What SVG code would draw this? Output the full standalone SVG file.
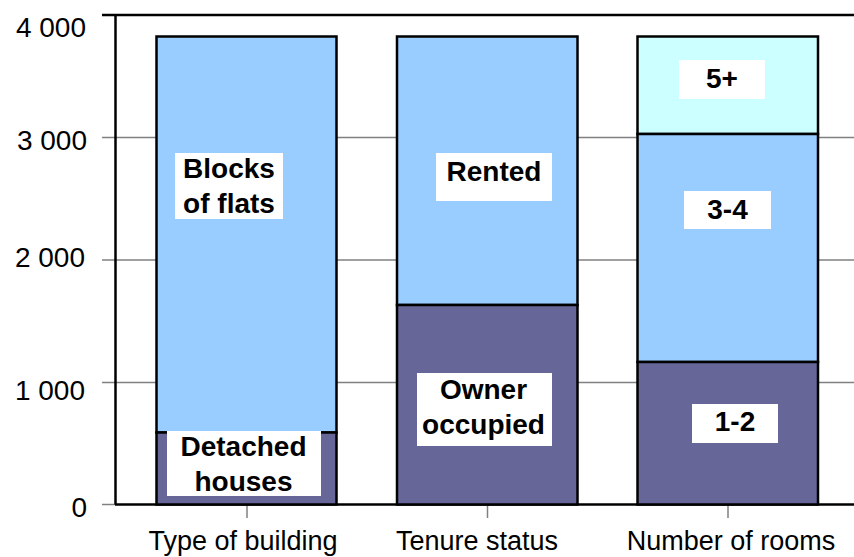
<svg xmlns="http://www.w3.org/2000/svg" width="854" height="557" viewBox="0 0 854 557">
<style>
.grid{stroke:#808080;stroke-width:1.5;fill:none}
.axis{stroke:#000;stroke-width:2.5;fill:none}
.bar{stroke:#000;stroke-width:2.5}
.dark{fill:#666699}
.light{fill:#99CCFF}
.cyan{fill:#CCFFFF}
.box{fill:#fff;stroke:none}
.yl{font-family:"Liberation Sans",Arial,sans-serif;font-size:28px;fill:#000;text-anchor:end}
.xl{font-family:"Liberation Sans",Arial,sans-serif;font-size:27px;fill:#000;text-anchor:middle}
.bl{font-family:"Liberation Sans",Arial,sans-serif;font-size:28px;font-weight:bold;fill:#000;text-anchor:middle}
</style>
<rect width="854" height="557" fill="#fff"/>
<g id="gridlines">
<line class="grid" x1="102" y1="137.5" x2="854" y2="137.5"/>
<line class="grid" x1="102" y1="260" x2="854" y2="260"/>
<line class="grid" x1="102" y1="382.5" x2="854" y2="382.5"/>
<line class="grid" x1="102" y1="504.5" x2="116" y2="504.5"/>
<line class="grid" x1="247" y1="505" x2="247" y2="518"/>
<line class="grid" x1="487.5" y1="505" x2="487.5" y2="518"/>
<line class="grid" x1="728" y1="505" x2="728" y2="518"/>
</g>
<g id="axes">
<line class="axis" x1="102" y1="15" x2="854" y2="15"/>
<line class="axis" x1="115.5" y1="15" x2="115.5" y2="504.5"/>
<line class="axis" x1="115" y1="504.5" x2="854" y2="504.5"/>
</g>
<g id="y-labels">
<text class="yl" x="86" y="37">4 000</text>
<text class="yl" x="87" y="150">3 000</text>
<text class="yl" x="85" y="267">2 000</text>
<text class="yl" x="85" y="400">1 000</text>
<text class="yl" x="87" y="517">0</text>
</g>
<g id="x-labels">
<text class="xl" x="243" y="550">Type of building</text>
<text class="xl" x="477" y="550">Tenure status</text>
<text class="xl" x="731" y="550">Number of rooms</text>
</g>
<g id="bar-type-of-building">
<rect class="bar light" x="156.5" y="36.5" width="180" height="396"/>
<rect class="bar dark" x="156.5" y="432.5" width="180" height="72"/>
</g>
<g id="bar-tenure-status">
<rect class="bar light" x="397" y="36.5" width="180.5" height="268.5"/>
<rect class="bar dark" x="397" y="305" width="180.5" height="199.5"/>
</g>
<g id="bar-number-of-rooms">
<rect class="bar cyan" x="637.5" y="36.5" width="180.5" height="97.5"/>
<rect class="bar light" x="637.5" y="134" width="180.5" height="228"/>
<rect class="bar dark" x="637.5" y="362" width="180.5" height="142.5"/>
</g>
<g id="label-blocks-of-flats">
<rect class="box" x="175" y="153" width="108" height="66"/>
<text class="bl" x="229" y="178">Blocks</text>
<text class="bl" x="229" y="212.5">of flats</text>
</g>
<g id="label-detached-houses">
<rect class="box" x="167" y="431" width="154" height="65"/>
<text class="bl" x="243.5" y="456" font-size="27">Detached</text>
<text class="bl" x="243.5" y="490.5" font-size="27">houses</text>
</g>
<g id="label-rented">
<rect class="box" x="436" y="153" width="116" height="48"/>
<text class="bl" x="494" y="180.5">Rented</text>
</g>
<g id="label-owner-occupied">
<rect class="box" x="417" y="373" width="135" height="73"/>
<text class="bl" x="483.5" y="399">Owner</text>
<text class="bl" x="483.5" y="433.5">occupied</text>
</g>
<g id="label-5plus">
<rect class="box" x="679" y="60" width="86" height="39"/>
<text class="bl" x="722" y="88">5+</text>
</g>
<g id="label-3-4">
<rect class="box" x="684" y="191" width="87" height="38"/>
<text class="bl" x="727.5" y="219">3-4</text>
</g>
<g id="label-1-2">
<rect class="box" x="692" y="404" width="86" height="39"/>
<text class="bl" x="735" y="430.5">1-2</text>
</g>
</svg>
